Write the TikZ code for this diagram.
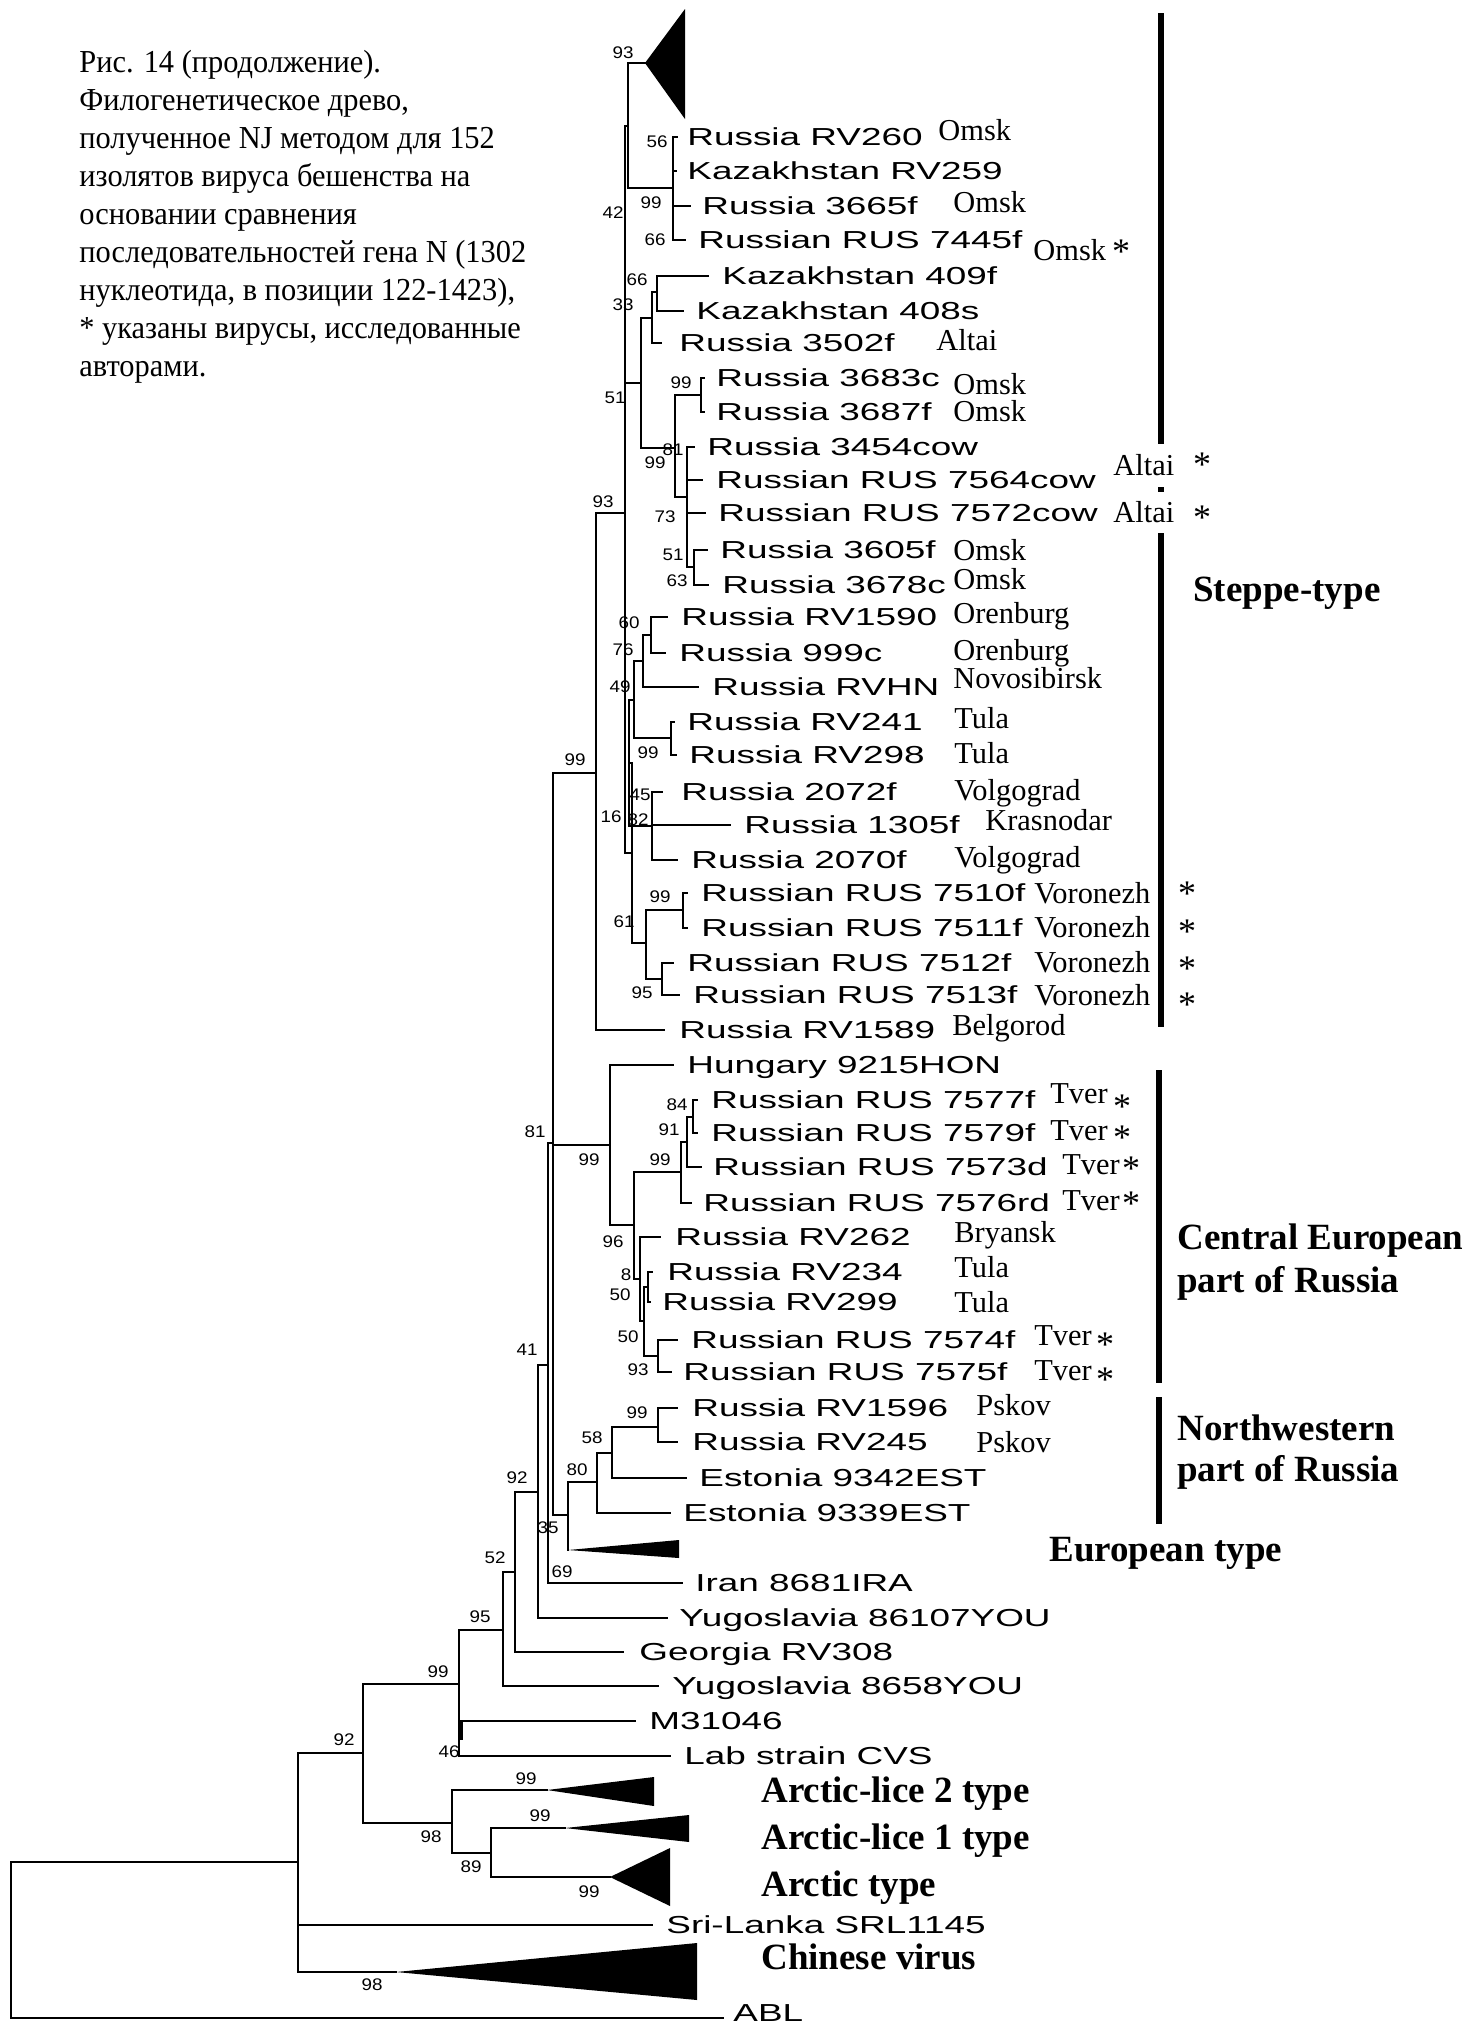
\documentclass[tikz,border=0pt]{standalone}
\usepackage{fontspec}
\usepackage{graphicx}
\setmainfont{Liberation Serif}
\newfontfamily\sansf{Liberation Sans}
\newcommand{\leaftext}[1]{\scalebox{1.5}[1]{\sansf\fontsize{12.3}{14}\selectfont #1}}
\newcommand{\boottext}[1]{\scalebox{1.12}[1]{\sansf\fontsize{8.4}{10}\selectfont #1}}
\newcommand{\captiontext}[1]{\scalebox{0.95}[1]{\fontsize{16}{18.4}\selectfont #1}}
\tikzset{
  br/.style={line width=1pt, line cap=rect},
  bar/.style={line width=3pt},
  leaf/.style={anchor=base west, inner sep=0pt, yshift=-4.4pt},
  boot/.style={inner sep=0pt},
  place/.style={anchor=base west, inner sep=0pt, yshift=-5pt, font=\fontsize{15.2}{17}\selectfont},
  grp/.style={anchor=base west, inner sep=0pt, yshift=-6pt, font=\bfseries\fontsize{18.5}{21}\selectfont},
  star/.style={inner sep=0pt, yshift=-2.5pt, font=\fontsize{18}{20}\selectfont},
  captext/.style={anchor=base west, inner sep=0pt},
  clade/.style={fill=black},
}
\begin{document}
\begin{tikzpicture}[x=0.5pt,y=-0.5pt]
\useasboundingbox (0,0) rectangle (1483,2026);

% ---------- caption ----------
\foreach \t [count=\i from 0] in {{Рис. 14 (продолжение).},{Филогенетическое древо,},{полученное NJ методом для 152},{изолятов вируса бешенства на},{основании сравнения},{последовательностей гена N (1302},{нуклеотида, в позиции 122-1423),},{* указаны вирусы, исследованные},{авторами.}}
  \node[captext] (cap\i) at (79,{72+38.1*\i}) {\captiontext{\t}};

% ---------- collapsed clades ----------
\fill[clade] (645,63) -- (685,9) -- (685,119) -- cycle;
\fill[clade] (568,1550) -- (679,1540) -- (679,1558) -- cycle;
\fill[clade] (547,1790) -- (654,1777) -- (654,1806) -- cycle;
\fill[clade] (565,1828) -- (689,1815) -- (689,1842) -- cycle;
\fill[clade] (610,1877) -- (670,1848) -- (670,1906) -- cycle;
\fill[clade] (396,1972) -- (697,1943) -- (697,2000) -- cycle;

% ---------- steppe, upper ----------
\draw[br] (628,63) -- (645,63) (628,63) -- (628,188) (628,188) -- (673,188)
  (673,137) -- (673,240) (673,137) -- (677,137) (673,171) -- (676,171)
  (673,206) -- (690,206) (673,240) -- (685,240);
\draw[br] (625,126) -- (625,853) (625,126) -- (628,126);
\draw[br] (657,276) -- (657,311) (657,276) -- (708,276) (657,311) -- (683,311)
  (652,292) -- (652,343) (652,292) -- (657,292) (652,343) -- (661,343)
  (641,318) -- (641,448) (641,318) -- (652,318) (625,383) -- (641,383) (641,448) -- (675,448);
\draw[br] (675,395) -- (675,497) (675,395) -- (701,395)
  (701,378) -- (701,412) (701,378) -- (704,378) (701,412) -- (704,412)
  (687,447) -- (687,567) (675,497) -- (687,497)
  (687,447) -- (694,447) (687,480) -- (702,480) (687,513) -- (705,513)
  (694,550) -- (694,585) (687,567) -- (694,567) (694,550) -- (707,550) (694,585) -- (708,585);
% ---------- steppe, lower ----------
\draw[br] (651,617) -- (651,653) (651,617) -- (667,617) (651,653) -- (665,653)
  (643,635) -- (643,687) (643,635) -- (651,635) (643,687) -- (698,687)
  (671,722) -- (671,755) (671,722) -- (674,722) (671,755) -- (676,755)
  (634,661) -- (634,738) (634,661) -- (643,661) (634,738) -- (671,738)
  (652,792) -- (652,860) (652,792) -- (662,792) (652,825) -- (730,825) (652,860) -- (677,860)
  (629,700) -- (629,826) (629,700) -- (634,700) (629,826) -- (652,826)
  (683,893) -- (683,928) (683,893) -- (687,893) (683,928) -- (687,928)
  (662,963) -- (662,995) (662,963) -- (673,963) (662,995) -- (679,995)
  (646,910) -- (646,979) (646,910) -- (683,910) (646,979) -- (662,979)
  (632,763) -- (632,943) (629,763) -- (632,763) (632,943) -- (646,943)
  (625,853) -- (632,853);
\draw[br] (596,513) -- (596,1030) (596,513) -- (625,513) (596,1030) -- (664,1030);
\draw[br] (553,773) -- (553,1515) (553,773) -- (596,773) (553,1145) -- (610,1145) (553,1515) -- (568,1515);
% ---------- central European ----------
\draw[br] (610,1065) -- (610,1225) (610,1065) -- (673,1065) (610,1225) -- (634,1225)
  (634,1172) -- (634,1279) (634,1172) -- (681,1172)
  (681,1142) -- (681,1203) (681,1203) -- (691,1203) (681,1142) -- (687,1142)
  (687,1117) -- (687,1167) (687,1167) -- (701,1167) (687,1117) -- (693,1117)
  (693,1100) -- (693,1133) (693,1100) -- (697,1100) (693,1133) -- (697,1133)
  (634,1279) -- (640,1279) (640,1237) -- (640,1321) (640,1237) -- (660,1237) (640,1321) -- (644,1321)
  (644,1287) -- (644,1356) (644,1287) -- (648,1287) (644,1356) -- (658,1356)
  (648,1272) -- (648,1302) (648,1272) -- (652,1272) (648,1302) -- (650,1302)
  (658,1340) -- (658,1372) (658,1340) -- (677,1340) (658,1372) -- (671,1372);
% ---------- northwestern / European ----------
\draw[br] (568,1482) -- (568,1550) (568,1482) -- (597,1482)
  (597,1453) -- (597,1513) (597,1513) -- (670,1513) (597,1453) -- (612,1453)
  (612,1427) -- (612,1478) (612,1478) -- (686,1478) (612,1427) -- (658,1427)
  (658,1408) -- (658,1442) (658,1408) -- (677,1408) (658,1442) -- (677,1442);
% ---------- basal part ----------
\draw[br] (548,1143) -- (548,1583) (548,1143) -- (553,1143) (548,1583) -- (682,1583)
  (538,1365) -- (538,1618) (538,1365) -- (548,1365) (538,1618) -- (667,1618)
  (515,1492) -- (515,1652) (515,1492) -- (538,1492) (515,1652) -- (623,1652)
  (503,1572) -- (503,1686) (503,1572) -- (515,1572) (503,1686) -- (658,1686)
  (459,1630) -- (459,1756) (459,1630) -- (503,1630) (459,1721) -- (635,1721) (459,1756) -- (670,1756)
  (363,1684) -- (363,1823) (363,1684) -- (459,1684) (363,1823) -- (452,1823)
  (452,1790) -- (452,1853) (452,1790) -- (547,1790)
  (491,1828) -- (491,1877) (452,1853) -- (491,1853) (491,1828) -- (565,1828) (491,1877) -- (610,1877)
  (298,1753) -- (298,1972) (298,1753) -- (363,1753) (298,1925) -- (652,1925) (298,1972) -- (396,1972)
  (10.5,1862) -- (10.5,2018) (10.5,1862) -- (298,1862) (10.5,2018) -- (723,2018);
\draw[line width=2pt] (461,1721) -- (461,1740);

% ---------- leaf names ----------
\foreach \x/\y/\t [count=\i] in {
 687/137/Russia RV260, 687/171/Kazakhstan RV259, 702/206/Russia 3665f, 698/240/Russian RUS 7445f,
 722/276/Kazakhstan 409f, 696/311/Kazakhstan 408s, 679/343/Russia 3502f, 716/378/Russia 3683c,
 716/412/Russia 3687f, 707/447/Russia 3454cow, 716/480/Russian RUS 7564cow, 718/513/Russian RUS 7572cow,
 720/550/Russia 3605f, 722/585/Russia 3678c, 681/617/Russia RV1590, 679/653/Russia 999c,
 712/687/Russia RVHN, 687/722/Russia RV241, 689/755/Russia RV298, 681/792/Russia 2072f,
 744/825/Russia 1305f, 691/860/Russia 2070f, 701/893/Russian RUS 7510f, 701/928/Russian RUS 7511f,
 687/963/Russian RUS 7512f, 693/995/Russian RUS 7513f, 679/1030/Russia RV1589, 687/1065/Hungary 9215HON,
 711/1100/Russian RUS 7577f, 711/1133/Russian RUS 7579f, 713/1167/Russian RUS 7573d, 703/1203/Russian RUS 7576rd,
 675/1237/Russia RV262, 667/1272/Russia RV234, 662/1302/Russia RV299, 691/1340/Russian RUS 7574f,
 683/1372/Russian RUS 7575f, 692/1408/Russia RV1596, 692/1442/Russia RV245, 699/1478/Estonia 9342EST,
 683/1513/Estonia 9339EST, 695/1583/Iran 8681IRA, 679/1618/Yugoslavia 86107YOU, 639/1652/Georgia RV308,
 672/1686/Yugoslavia 8658YOU, 649/1721/M31046, 684/1756/Lab strain CVS, 666/1925/Sri-Lanka SRL1145,
 733/2013/ABL}
  \node[leaf] (leaf\i) at (\x,\y) {\leaftext{\t}};

% ---------- bootstrap values ----------
\foreach \x/\y/\t [count=\i] in {
 623/53/93, 657/142/56, 651/203/99, 655/240/66, 613/213/42, 637/280/66, 623/305/33, 615/398/51,
 681/383/99, 673/450/81, 655/463/99, 665/517/73, 673/555/51, 677/581/63, 603/502/93,
 629/623/60, 623/650/76, 620/687/49, 648/753/99, 640/795/45, 611/817/16, 638/820/82,
 660/897/99, 624/922/61, 642/993/95, 575/760/99, 535/1132/81, 589/1160/99, 613/1242/96,
 660/1160/99, 677/1105/84, 669/1130/91, 626/1275/8, 620/1295/50, 628/1337/50, 638/1370/93,
 637/1413/99, 592/1438/58, 577/1470/80, 548/1528/35, 562/1572/69, 527/1350/41, 517/1478/92,
 495/1558/52, 480/1617/95, 438/1672/99, 449/1752/46, 344/1740/92, 526/1779/99, 431/1837/98,
 540/1816/99, 471/1867/89, 589/1892/99, 372/1985/98}
  \node[boot] (bs\i) at (\x,\y) {\boottext{\t}};

% ---------- places ----------
\foreach \x/\y/\t [count=\i] in {
 938/130/Omsk, 953/202/Omsk, 1033/250/Omsk, 936/340/Altai, 953/384/Omsk, 953/411/Omsk,
 1113/465/Altai, 1113/512/Altai, 953/550/Omsk, 953/579/Omsk, 953/613/Orenburg, 953/650/Orenburg,
 953/678/Novosibirsk, 954/718/Tula, 954/753/Tula, 954/790/Volgograd, 985/820/Krasnodar,
 954/857/Volgograd, 1034/893/Voronezh, 1034/927/Voronezh, 1034/962/Voronezh, 1034/995/Voronezh,
 952/1025/Belgorod, 1050/1093/Tver, 1050/1130/Tver, 1062/1164/Tver, 1062/1200/Tver,
 954/1232/Bryansk, 954/1267/Tula, 954/1302/Tula, 1034/1335/Tver, 1034/1370/Tver,
 976/1405/Pskov, 976/1442/Pskov}
  \node[place] (pl\i) at (\x,\y) {\t};

% ---------- asterisks ----------
\foreach \x/\y [count=\i] in {1121/247, 1202/460, 1202/513, 1187/889, 1187/927, 1187/964, 1187/1000,
 1122/1102, 1122/1133, 1131/1164, 1131/1199, 1105/1340, 1105/1375}
  \node[star] (st\i) at (\x,\y) {*};

% ---------- group bars ----------
\draw[bar] (1161,13) -- (1161,444);
\draw[bar] (1161,487) -- (1161,492);
\draw[bar] (1161,533) -- (1161,1027);
\draw[bar] (1159,1070) -- (1159,1383);
\draw[bar] (1159,1397) -- (1159,1524);

% ---------- group labels ----------
\node[grp] (g1) at (1193,589) {Steppe-type};
\node[grp] (g2) at (1177,1237) {Central European};
\node[grp] (g3) at (1177,1280) {part of Russia};
\node[grp] (g4) at (1177,1428) {Northwestern};
\node[grp] (g5) at (1177,1469) {part of Russia};
\node[grp] (g6) at (1049,1549) {European type};
\node[grp] (g7) at (761,1790) {Arctic-lice 2 type};
\node[grp] (g8) at (761,1837) {Arctic-lice 1 type};
\node[grp] (g9) at (761,1884) {Arctic type};
\node[grp] (g10) at (761,1957) {Chinese virus};
\end{tikzpicture}
\end{document}
